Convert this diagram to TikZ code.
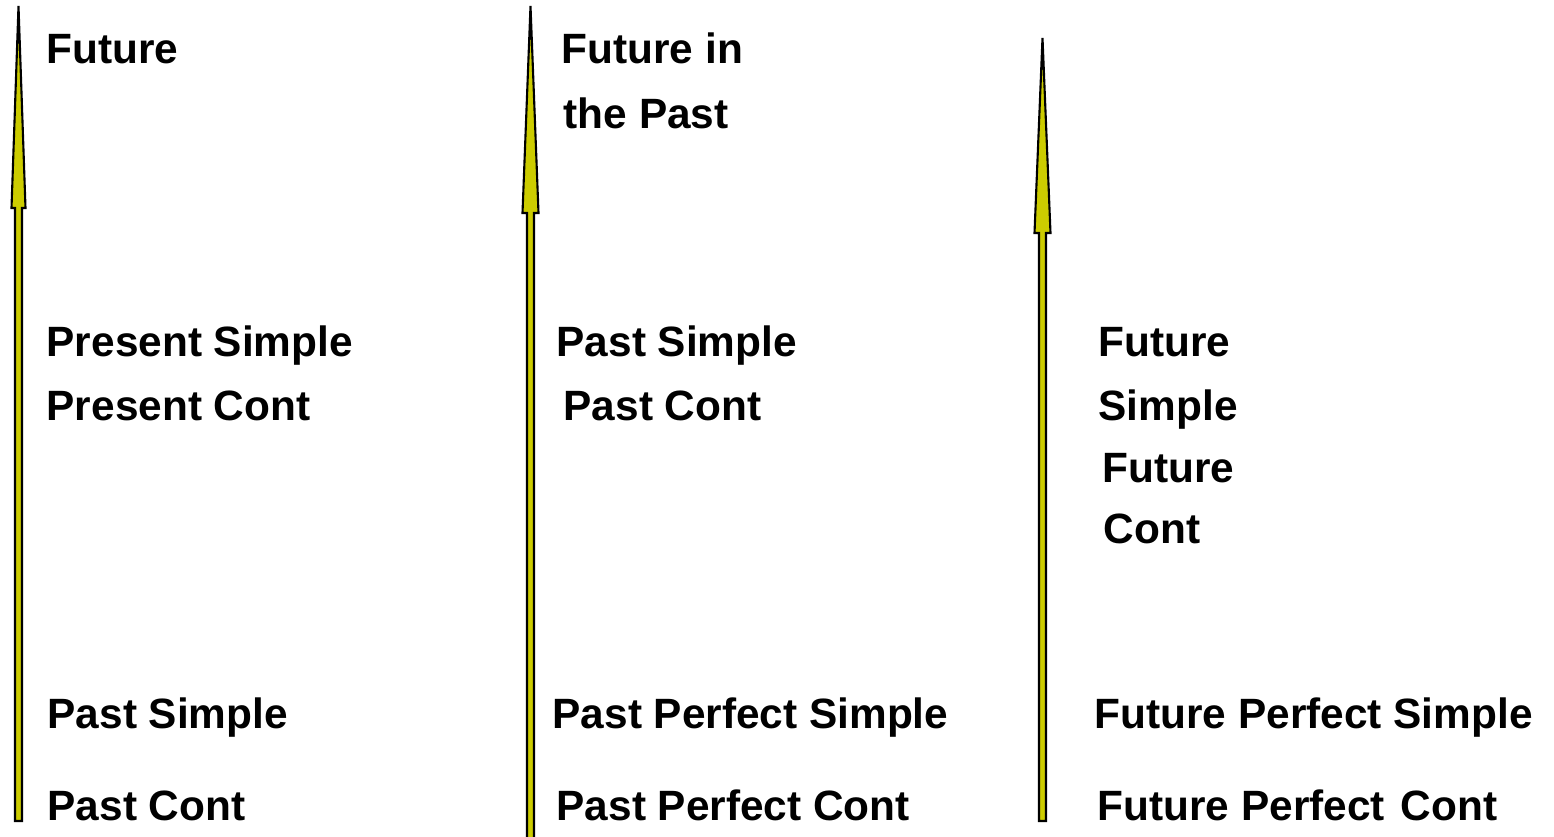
\documentclass[tikz,border=0pt]{standalone}
\usepackage{fontspec}
\setmainfont{Liberation Sans}
\definecolor{lineyellow}{HTML}{CCCC00}
\begin{document}
\begin{tikzpicture}[x=0.01cm,y=-0.01cm]
            \tikzstyle{every node}=[anchor=base west, inner sep=0pt, font=\fontsize{12.05}{14}\selectfont\bfseries, text=black]
            \tikzstyle{timeline}=[fill=lineyellow, draw=black, line width=0.6pt]
            \useasboundingbox (0,0) rectangle (1554,836);

            % three time lines
            \draw[timeline] (15,821) -- (15,208) -- (11.5,208) -- (18.5,6) -- (25.5,208) -- (22,208) -- (22,821) -- cycle;
            \draw[timeline] (527,845) -- (527,213) -- (522.5,213) -- (530.5,6) -- (538.5,213) -- (534,213) -- (534,845) -- cycle;
            \draw[timeline] (1039,821) -- (1039,233) -- (1034.5,233) -- (1042.5,38) -- (1050.5,233) -- (1046,233) -- (1046,821) -- cycle;

            % first line
            \node (fut) at (46,63) {Future};
            \node (pres) at (46,356) {Present Simple};
            \node (presc) at (46,420) {Present Cont};
            \node (past) at (47,728) {Past Simple};
            \node (pastc) at (47,820) {Past Cont};

            % second line
            \node (futp) at (561,63) {Future in};
            \node (futp2) at (563,128) {the Past};
            \node (past2) at (556,356) {Past Simple};
            \node (pastc2) at (563,420) {Past Cont};
            \node (pperf) at (552,728) {Past Perfect Simple};
            \node (pperfc) at (556,820) {Past Perfect Cont};

            % third line
            \node (futs) at (1098,356) {Future};
            \node (futs2) at (1098,420) {Simple};
            \node (futc) at (1102,482) {Future};
            \node (futc2) at (1103,543) {Cont};
            \node (fperf) at (1094,728) {Future Perfect Simple};
            \node (fperfc) at (1097,820) {Future Perfect\ \kern0.1em Cont};
        \end{tikzpicture}
\end{document}
